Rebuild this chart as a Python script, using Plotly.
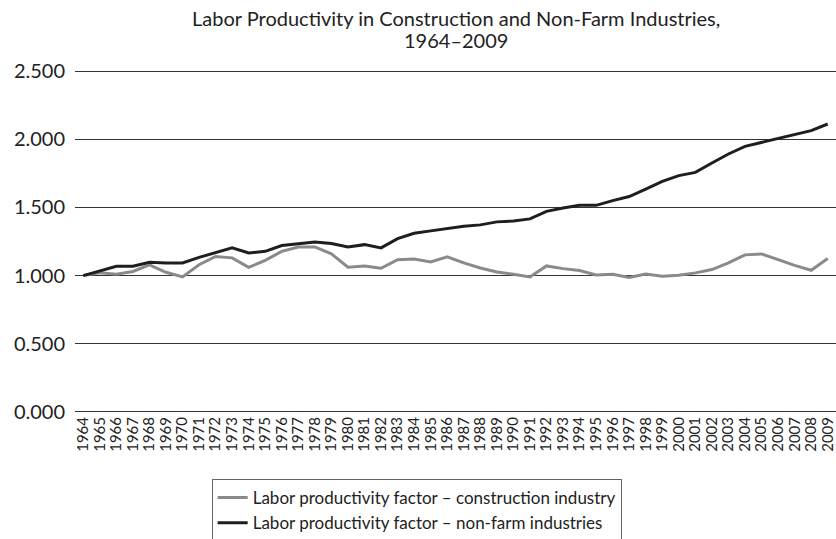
import plotly.graph_objects as go

years = [str(y) for y in range(1964, 2010)]
construction = [1.000, 1.020, 1.010, 1.030, 1.078, 1.024, 0.990, 1.080, 1.140, 1.130,
                1.060, 1.112, 1.178, 1.210, 1.210, 1.159, 1.061, 1.071, 1.054, 1.117,
                1.122, 1.100, 1.137, 1.093, 1.056, 1.027, 1.010, 0.990, 1.071, 1.051,
                1.037, 1.005, 1.010, 0.987, 1.012, 0.995, 1.002, 1.020, 1.044, 1.093,
                1.152, 1.159, 1.117, 1.075, 1.039, 1.125]
nonfarm = [1.000, 1.034, 1.068, 1.068, 1.098, 1.093, 1.093, 1.134, 1.171, 1.203,
           1.166, 1.178, 1.220, 1.235, 1.247, 1.235, 1.210, 1.227, 1.203, 1.271,
           1.310, 1.328, 1.345, 1.362, 1.372, 1.394, 1.400, 1.416, 1.471, 1.496,
           1.515, 1.515, 1.550, 1.580, 1.635, 1.691, 1.733, 1.757, 1.826, 1.892,
           1.948, 1.977, 2.001, 2.035, 2.063, 2.112]
y_ticks = [0, 0.5, 1.0, 1.5, 2.0, 2.5]
y_tick_text = ["0.000", "0.500", "1.000", "1.500", "2.000", "2.500"]
title_lines = ["Labor Productivity in Construction and Non-Farm Industries,", "1964\u20132009"]

font = "Lato, 'Open Sans', sans-serif"
M_T, M_B = 70, 126
H_PLOT = 539 - M_T - M_B
Y_RANGE = [-0.008, 2.508]


def paper_y(px):
    # convert a screen pixel row into paper coordinates
    return (539 - M_B - px) / H_PLOT


fig = go.Figure()
fig.add_trace(go.Scatter(x=years, y=construction, mode="lines",
                         name="Labor productivity factor \u2013 construction industry",
                         line=dict(color="#8a8a8a", width=3)))
fig.add_trace(go.Scatter(x=years, y=nonfarm, mode="lines",
                         name="Labor productivity factor \u2013 non-farm industries",
                         line=dict(color="#1e1e1e", width=3)))

for txt, py in zip(title_lines, [18, 40]):
    fig.add_annotation(text=txt, xref="paper", yref="paper", x=0.5,
                       y=paper_y(py), xanchor="center", yanchor="middle",
                       showarrow=False, font=dict(size=20, color="#222222", family=font))

fig.update_layout(
    width=836, height=539,
    margin=dict(l=75, r=0, t=M_T, b=M_B, autoexpand=False),
    paper_bgcolor="white", plot_bgcolor="white",
    font=dict(family=font, color="#222222"),
    showlegend=True,
    legend=dict(x=0.449, xanchor="center", y=paper_y(479), yanchor="top",
                orientation="v", bordercolor="#666666", borderwidth=1,
                font=dict(size=17, color="#222222", family=font),
                tracegroupgap=0, itemwidth=30),
)
fig.update_xaxes(type="category", range=[-0.5, 45.5], tickangle=-90,
                 tickmode="array", tickvals=years, ticktext=years,
                 showgrid=False, showline=False, zeroline=False,
                 tickfont=dict(size=15, color="#222222"), ticks="")
fig.update_yaxes(range=Y_RANGE, tickvals=y_ticks, ticktext=y_tick_text,
                 showgrid=True, gridcolor="#333333", gridwidth=1.3,
                 zeroline=False, showline=False, ticks="",
                 tickfont=dict(size=20, color="#222222"), ticklabelstandoff=9)

fig.write_html("out.html", config={"displayModeBar": False},
               post_script="document.body.style.margin='0';")
